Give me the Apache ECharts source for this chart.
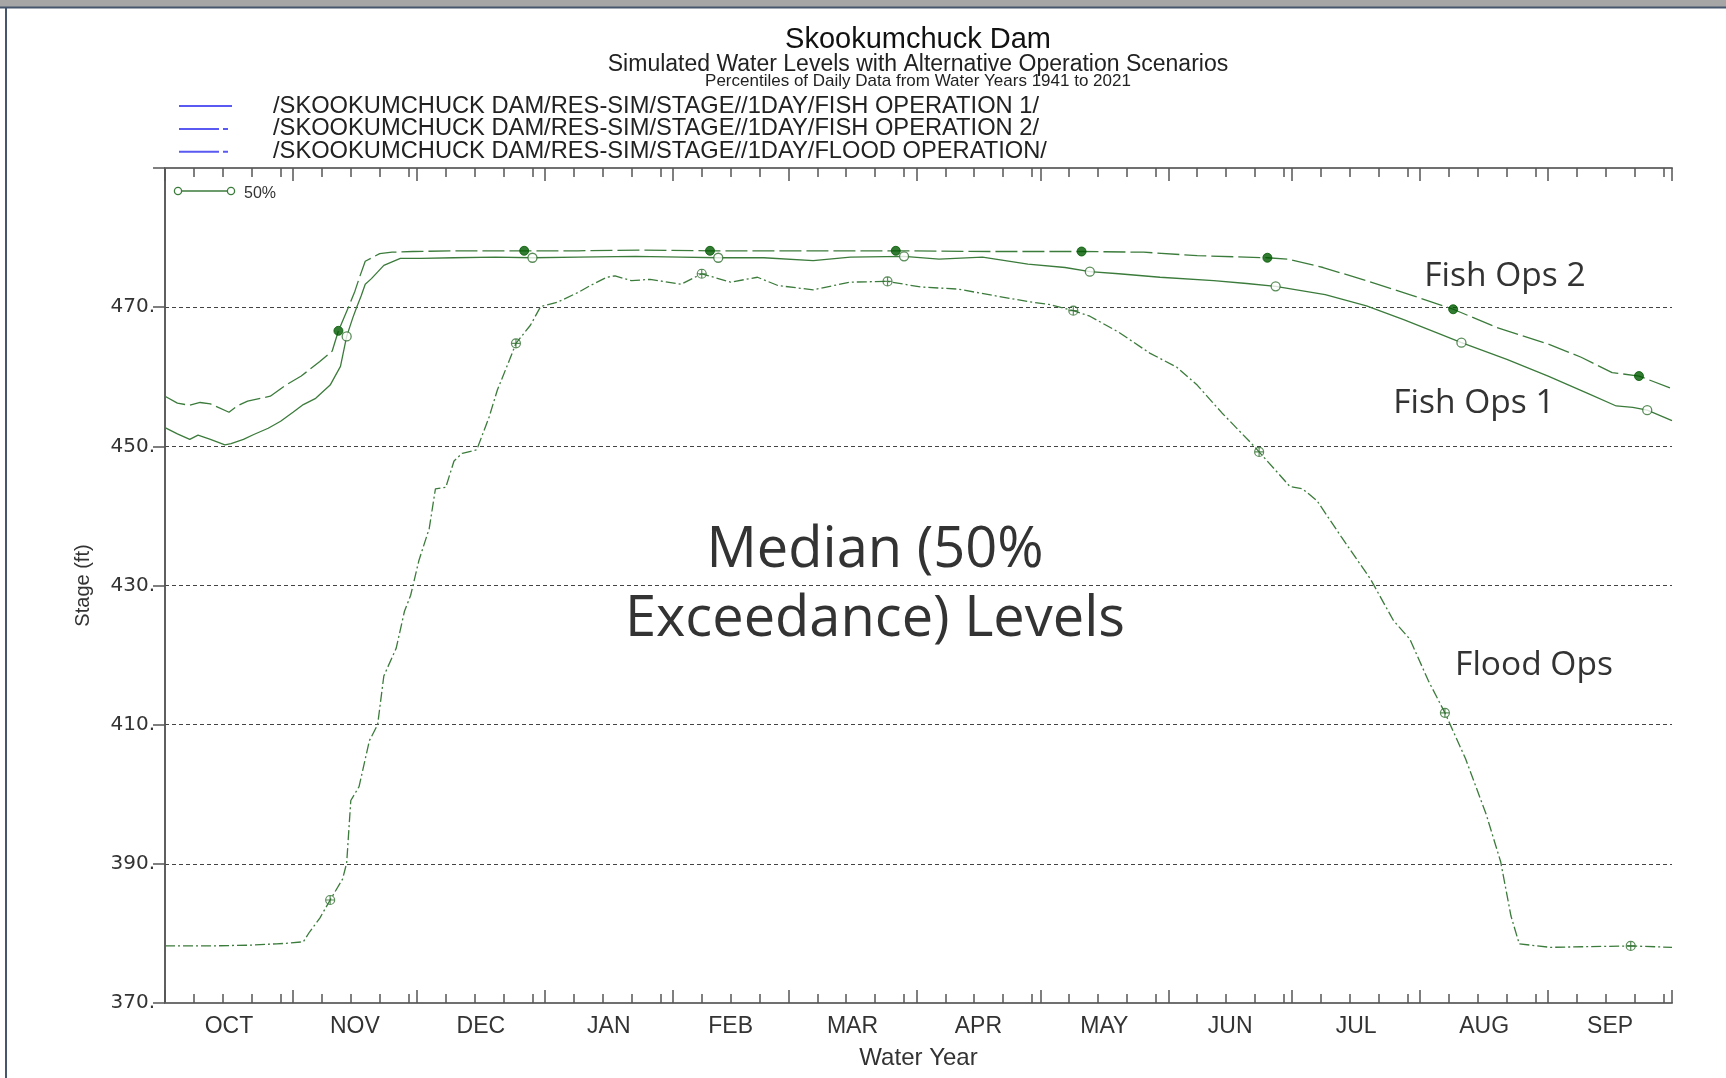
<!DOCTYPE html>
<html>
<head>
<meta charset="utf-8">
<title>Skookumchuck Dam</title>
<script src="https://cdn.jsdelivr.net/npm/echarts@6/dist/echarts.min.js"></script>
<style>
  html, body { margin: 0; padding: 0; background: #fff; }
  #chart { width: 1726px; height: 1078px; }
</style>
</head>
<body>
<div id="chart"></div>
<script>
// x = day of water year (0 = 1 Oct), y = stage (ft)
const monthNames = ['OCT', 'NOV', 'DEC', 'JAN', 'FEB', 'MAR', 'APR', 'MAY', 'JUN', 'JUL', 'AUG', 'SEP']
const monthStarts = [0, 31, 61, 92, 123, 151, 182, 212, 243, 273, 304, 335, 365]
const monthMids = [15.5, 46, 76.5, 107.5, 137, 166.5, 197, 227.5, 258, 288.5, 319.5, 350]
const stageLabels = [370, 390, 410, 430, 450, 470]

// weekly minor ticks inside each month (7th, 14th, 21st, 28th)
const weekTicks = []
for (let m = 0; m < 12; m++) {
  for (let d = 7; d < 29; d += 7) {
    if (monthStarts[m] + d < monthStarts[m + 1]) weekTicks.push(monthStarts[m] + d)
  }
}

const pathNames = [
  '/SKOOKUMCHUCK DAM/RES-SIM/STAGE//1DAY/FISH OPERATION 1/',
  '/SKOOKUMCHUCK DAM/RES-SIM/STAGE//1DAY/FISH OPERATION 2/',
  '/SKOOKUMCHUCK DAM/RES-SIM/STAGE//1DAY/FLOOD OPERATION/'
]

const fishOps1 = [
  [0, 452.7], [3, 451.8], [6, 451.0], [8, 451.6], [11, 451.0], [14.5, 450.2], [16, 450.4],
  [19, 451.0], [21.5, 451.7], [25, 452.6], [28, 453.6], [31, 454.9], [33.5, 456.0], [36.5, 456.9],
  [40, 458.8], [42.5, 461.5], [44, 465.8], [45.5, 468.5], [46.5, 470.1], [47.5, 471.6], [48.5, 473.3],
  [50, 474.1], [53, 476.0], [57, 477.0], [62, 477.0], [70, 477.1], [80, 477.2], [89, 477.1],
  [100, 477.2], [114, 477.3], [125, 477.2], [134, 477.1], [145, 477.1], [157, 476.7], [166, 477.2],
  [179, 477.3], [187.5, 476.9], [198, 477.2], [209, 476.2], [218, 475.7], [224, 475.1], [231, 474.8],
  [241, 474.3], [254, 473.8], [262, 473.4], [269, 473.0], [281, 471.8], [291, 470.2], [300, 468.2],
  [309, 466.1], [314, 464.9], [325, 462.5], [335, 460.1], [345, 457.5], [351.5, 455.8], [355.5, 455.6],
  [359, 455.2], [365, 453.7]
]

const fishOps2 = [
  [0, 457.2], [3, 456.2], [6, 455.9], [8.5, 456.3], [11, 456.1], [15.5, 454.9], [17.5, 455.8],
  [20, 456.5], [25.5, 457.2], [29, 458.7], [33, 460.1], [37.5, 462.2], [40.5, 463.7], [42, 466.6],
  [44.5, 470.1], [46, 472.3], [47, 474.1], [48.5, 476.6], [52, 477.7], [55, 477.9], [60, 478.0],
  [70, 478.1], [87, 478.1], [100, 478.1], [115, 478.2], [132, 478.1], [150, 478.1], [177, 478.1],
  [200, 478.0], [222, 478.0], [237, 477.9], [250, 477.4], [267, 477.1], [272, 476.9], [280.5, 475.7],
  [291, 473.8], [302, 471.7], [312, 469.7], [322.5, 467.1], [335, 464.7], [343, 462.8], [350.5, 460.6],
  [357, 460.1], [365, 458.3]
]

const floodOps = [
  [0, 378.2], [10, 378.2], [20, 378.3], [27, 378.5], [30, 378.6], [33.5, 378.8], [35, 380.2],
  [37.5, 382.2], [40, 384.8], [43, 387.8], [44, 390.1], [45, 399.1], [47, 401.1], [49.5, 407.7],
  [51.5, 410.0], [53, 417.0], [56, 421.0], [58, 426.3], [59.5, 428.6], [61.5, 433.6], [64, 438.2],
  [65.5, 443.9], [68, 444.1], [70, 447.9], [72, 449.0], [75.5, 449.5], [78.5, 454.2], [80.5, 458.1],
  [83.5, 462.5], [85, 464.8], [88.5, 467.4], [91, 470.1], [95, 470.7], [100, 472.1], [103, 473.1],
  [107, 474.3], [109, 474.5], [113, 473.8], [117.5, 474.0], [125, 473.3], [130, 474.8], [137, 473.6],
  [143.5, 474.3], [148.5, 473.1], [157, 472.5], [166, 473.6], [175, 473.7], [183, 472.9], [192, 472.6],
  [200.5, 471.7], [209, 470.8], [214, 470.4], [220, 469.5], [224, 468.7], [231, 466.4], [238.5, 463.4],
  [245, 461.4], [250, 458.8], [256, 454.8], [263, 450.5], [265, 449.2], [272.5, 444.2], [275.5, 443.9],
  [279, 442.2], [285, 436.9], [292, 430.9], [297.5, 425.0], [301.5, 422.3], [306, 416.3], [310, 411.7],
  [315, 405.1], [320, 397.1], [323.5, 390.3], [326, 382.5], [328, 378.5], [335.5, 378.0], [345, 378.1],
  [355, 378.2], [365, 378.0]
]

// days where the 50% symbol is drawn on each curve
const fishOps1Marks = [44, 89, 134, 179, 224, 269, 314, 359]
const fishOps2Marks = [42, 87, 132, 177, 222, 267, 312, 357]
const floodOpsMarks = [40, 85, 130, 175, 220, 265, 310, 355]

const pick = (data, days) => data.filter(p => days.includes(p[0]))

const lineGreen = '#3b7b3b'
const arial = 'Liberation Sans, Arial, sans-serif'
const segoe = 'Open Sans, Noto Sans, sans-serif'
const crossCircle = 'path://M1,10A9,9,0,1,1,19,10A9,9,0,1,1,1,10ZM10,1L10,19M1,10L19,10'

const chart = echarts.init(document.getElementById('chart'))

const dayAxis = (position, major) => ({
  type: 'value',
  position: position,
  min: 0,
  max: 365,
  axisLine: { show: major, lineStyle: { color: '#707070', width: 2 } },
  axisTick: {
    show: true,
    inside: true,
    length: major ? 13 : 9,
    customValues: major ? monthStarts : weekTicks,
    lineStyle: { color: '#555', width: 1.5 }
  },
  axisLabel: { show: false },
  splitLine: { show: false }
})

const bottomMajor = dayAxis('bottom', true)
bottomMajor.axisLabel = {
  show: true,
  customValues: monthMids,
  formatter: v => monthNames[monthMids.indexOf(v)],
  margin: 12,
  fontSize: 23,
  fontFamily: arial,
  color: '#333'
}
bottomMajor.name = 'Water Year'
bottomMajor.nameLocation = 'middle'
bottomMajor.nameGap = 43
bottomMajor.nameTextStyle = { fontSize: 24, fontFamily: arial, color: '#333' }

const option = {
  animation: false,
  backgroundColor: '#fff',
  title: [
    {
      text: 'Skookumchuck Dam', left: 918, top: 25, textAlign: 'center', padding: 0,
      textStyle: { fontSize: 29, fontWeight: 'normal', fontFamily: arial, color: '#111' }
    },
    {
      text: 'Simulated Water Levels with Alternative Operation Scenarios', left: 918, top: 53, textAlign: 'center', padding: 0,
      textStyle: { fontSize: 23, fontWeight: 'normal', fontFamily: arial, color: '#222' }
    },
    {
      text: 'Percentiles of Daily Data from Water Years 1941 to 2021', left: 918, top: 73, textAlign: 'center', padding: 0,
      textStyle: { fontSize: 17, fontWeight: 'normal', fontFamily: arial, color: '#222' }
    }
  ],
  legend: {
    orient: 'vertical',
    left: 178,
    top: 94,
    padding: 0,
    itemWidth: 53,
    itemHeight: 14,
    itemGap: -1.1,
    selectedMode: false,
    itemStyle: { opacity: 0 },
    lineStyle: { color: '#5a5af2', width: 2 },
    textStyle: { fontSize: 23.7, fontFamily: arial, color: '#222', padding: [0, 0, 0, 36], lineHeight: 21 },
    data: [
      { name: pathNames[0], lineStyle: { type: 'solid' } },
      { name: pathNames[1], lineStyle: { type: [40, 4, 5, 30] } },
      { name: pathNames[2], lineStyle: { type: [40, 4, 5, 30] } }
    ]
  },
  grid: { left: 165, right: 54, top: 168, bottom: 75 },
  xAxis: [bottomMajor, dayAxis('bottom', false), dayAxis('top', true), dayAxis('top', false)],
  yAxis: [
    {
      type: 'value',
      position: 'left',
      min: 370,
      max: 490,
      interval: 20,
      name: 'Stage (ft)',
      nameLocation: 'middle',
      nameGap: 72,
      nameTextStyle: { fontSize: 20, fontFamily: arial, color: '#333' },
      axisLine: { show: true, lineStyle: { color: '#555', width: 1.5 } },
      axisTick: { show: true, length: 12, lineStyle: { color: '#555', width: 1.5 } },
      axisLabel: {
        customValues: stageLabels,
        formatter: v => v + '.',
        margin: 10,
        fontSize: 20,
        fontFamily: 'DejaVu Sans, sans-serif',
        color: '#333'
      },
      splitLine: {
        show: true,
        showMinLine: false,
        showMaxLine: false,
        lineStyle: { color: '#444', width: 1, type: [4, 3] }
      }
    },
    {
      type: 'value',
      position: 'right',
      min: 370,
      max: 490,
      axisLine: { show: true, lineStyle: { color: '#555', width: 1.5 } },
      axisTick: { show: false },
      axisLabel: { show: false },
      splitLine: { show: false }
    }
  ],
  series: [
    {
      name: pathNames[0], type: 'line', data: fishOps1, symbol: 'none',
      lineStyle: { color: lineGreen, width: 1.3, type: 'solid' }, itemStyle: { color: lineGreen }
    },
    {
      name: pathNames[1], type: 'line', data: fishOps2, symbol: 'none',
      lineStyle: { color: lineGreen, width: 1.3, type: [22, 5] }, itemStyle: { color: lineGreen }
    },
    {
      name: pathNames[2], type: 'line', data: floodOps, symbol: 'none',
      lineStyle: { color: lineGreen, width: 1.3, type: [10, 3, 2, 3] }, itemStyle: { color: lineGreen }
    },
    {
      name: 'fo1-50', type: 'scatter', data: pick(fishOps1, fishOps1Marks), symbol: 'circle', symbolSize: 9,
      itemStyle: { color: '#fff', borderColor: '#2f6f2f', borderWidth: 1.3 }, z: 5
    },
    {
      name: 'fo2-50', type: 'scatter', data: pick(fishOps2, fishOps2Marks), symbol: 'circle', symbolSize: 9,
      itemStyle: { color: '#005a00', borderColor: '#005a00', borderWidth: 1 }, z: 5
    },
    {
      name: 'flood-50', type: 'scatter', data: pick(floodOps, floodOpsMarks), symbol: crossCircle, symbolSize: 9,
      itemStyle: { color: 'rgba(255,255,255,0)', borderColor: '#2f6f2f', borderWidth: 1.2 }, z: 5
    }
  ],
  graphic: [
    // window frame
    { type: 'rect', shape: { x: 0, y: 0, width: 1726, height: 7 }, style: { fill: '#a6a6a6' }, silent: true },
    { type: 'line', shape: { x1: 0, y1: 7.5, x2: 1726, y2: 7.5 }, style: { stroke: '#46566c', lineWidth: 2 }, silent: true },
    { type: 'line', shape: { x1: 6, y1: 7, x2: 6, y2: 1078 }, style: { stroke: '#46566c', lineWidth: 2 }, silent: true },
    // percentile key inside plot
    { type: 'line', shape: { x1: 178, y1: 191, x2: 231, y2: 191 }, style: { stroke: lineGreen, lineWidth: 1.5 }, z: 10 },
    { type: 'circle', shape: { cx: 178, cy: 191, r: 3.6 }, style: { fill: '#fff', stroke: lineGreen, lineWidth: 1.3 }, z: 11 },
    { type: 'circle', shape: { cx: 231, cy: 191, r: 3.6 }, style: { fill: '#fff', stroke: lineGreen, lineWidth: 1.3 }, z: 11 },
    {
      type: 'text', x: 244, y: 194, z: 11,
      style: { text: '50%', fontSize: 16, fontFamily: arial, fill: '#333', align: 'left', verticalAlign: 'middle', textAlign: 'left', textVerticalAlign: 'middle' }
    },
    // annotations
    {
      type: 'text', x: 875, y: 586, z: 12,
      style: {
        text: 'Median (50%\nExceedance) Levels', fontSize: 56, lineHeight: 69, fontFamily: segoe, fill: '#333',
        align: 'center', verticalAlign: 'middle', textAlign: 'center', textVerticalAlign: 'middle'
      }
    },
    {
      type: 'text', x: 1505, y: 276, z: 12,
      style: { text: 'Fish Ops 2', fontSize: 33.5, fontFamily: segoe, fill: '#333', align: 'center', verticalAlign: 'middle', textAlign: 'center', textVerticalAlign: 'middle' }
    },
    {
      type: 'text', x: 1474, y: 403, z: 12,
      style: { text: 'Fish Ops 1', fontSize: 33.5, fontFamily: segoe, fill: '#333', align: 'center', verticalAlign: 'middle', textAlign: 'center', textVerticalAlign: 'middle' }
    },
    {
      type: 'text', x: 1534, y: 665, z: 12,
      style: { text: 'Flood Ops', fontSize: 33.5, fontFamily: segoe, fill: '#333', align: 'center', verticalAlign: 'middle', textAlign: 'center', textVerticalAlign: 'middle' }
    }
  ]
}

chart.setOption(option)
</script>
</body>
</html>
